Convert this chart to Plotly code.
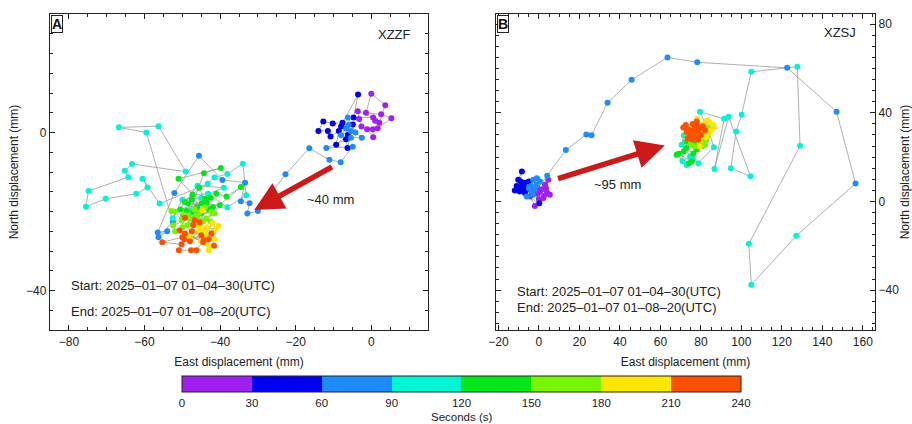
import plotly.graph_objects as go

# ---------------- data ----------------
# Panel A (XZZF): seconds since start, east (mm), north (mm)
tA = [0, 2, 4, 6, 8, 10, 12, 14, 16, 18, 20, 22, 24, 26, 28,
      30, 32, 34, 36, 38, 40, 42, 44, 46, 48, 50, 52, 54, 56, 58,
      60, 61, 62, 63, 64, 66, 67, 68, 69, 70, 71, 72, 73, 74, 75, 76, 77, 78, 79, 80, 82, 84, 85, 86, 87, 88,
      90, 91, 92, 93, 94, 95, 96, 97, 98, 99, 100, 101, 102, 103, 104, 105, 106, 107, 108, 109, 110, 111, 112, 113, 114, 116, 118,
      120, 121, 122, 123, 124, 125, 126, 127, 128, 129, 130, 131, 132, 133, 134, 135, 136, 137, 138, 140, 142, 144, 146, 148,
      150, 151, 152, 153, 154, 155, 156, 157, 158, 159, 160, 161, 162, 164, 166, 168, 170, 172, 174, 176, 178,
      180, 181, 182, 183, 184, 185, 186, 187, 188, 189, 190, 191, 193, 195, 197, 199, 201, 203, 205, 207, 209,
      210, 211, 212, 213, 214, 215, 216, 217, 218, 219, 220, 221, 222, 223, 224, 225, 226, 227, 228, 229, 230]
eA = [1.0, 2.1, 3.7, 0.0, -1.4, 2.6, 5.3, 1.7, 0.4, 0.5, -1.1, -2.6, -3.2, -3.6, 0.5,
      -4.7, -3.5, -7.6, -10.2, -12.7, -14.0, -11.5, -10.8, -8.6, -9.3, -6.2, -6.7, -6.3, -4.9, -8.0,
      -6.7, -5.4, -8.0, -6.0, -6.2, -4.2, -2.5, -5.4, -11.9, -4.9, -8.1, -11.1, -16.4, -22.7, -30.0, -32.8, -32.2, -34.5, -33.4, -39.4, -45.6, -52.1, -56.5, -54.0, -56.3, -52.5,
      -59.5, -66.8, -56.3, -49.1, -63.3, -65.2, -64.3, -74.8, -75.5, -70.3, -62.2, -59.2, -60.5, -56.0, -43.3, -41.5, -38.1, -34.0, -33.1, -38.1, -43.2, -39.0, -46.0, -52.5, -50.0, -45.0, -48.0,
      -44.3, -39.8, -51.0, -47.3, -41.0, -38.3, -34.5, -40.1, -44.9, -48.5, -41.9, -48.9, -44.0, -49.8, -47.1, -49.3, -45.5, -43.0, -47.5, -42.5, -46.0, -50.5, -45.0, -43.5,
      -52.9, -52.0, -50.2, -46.3, -45.4, -42.3, -48.0, -52.4, -51.9, -43.6, -41.4, -48.7, -46.8, -44.5, -49.5, -47.0, -44.0, -50.0, -46.0, -42.5, -48.5,
      -44.7, -44.9, -41.0, -40.5, -41.9, -44.5, -47.8, -45.4, -47.1, -43.2, -42.8, -43.0, -46.0, -44.0, -42.0, -45.0, -48.5, -43.5, -41.5, -45.5, -44.0,
      -50.7, -49.3, -47.1, -45.4, -46.7, -49.3, -44.3, -42.3, -41.6, -44.5, -46.3, -47.7, -50.9, -50.2, -55.3, -50.0, -48.0, -45.0, -43.0, -47.5, -49.5]
nA = [3.0, 2.5, 6.9, 9.8, 5.0, 4.6, 3.6, 1.1, 0.8, -1.2, 0.8, 1.5, 3.4, 5.4, 3.8,
      3.8, 9.6, 2.5, 2.3, 2.8, 0.4, 0.4, -1.0, 0.4, -3.1, -0.6, -1.7, -3.9, 2.0, 1.5,
      1.0, 0.4, -0.7, 1.9, 3.8, 0.0, -1.3, -1.3, -3.9, -3.6, -7.5, -6.9, -4.0, -10.6, -19.9, -20.5, -17.9, -17.4, -12.7, -12.0, -5.9, -15.3, -25.3, -25.0, -26.5, -22.6,
      0.0, 1.3, 1.6, -9.9, -8.0, -9.7, -11.3, -14.8, -18.8, -16.8, -15.5, -13.9, -11.7, -18.0, -13.0, -11.4, -10.5, -7.9, -15.9, -18.9, -15.5, -14.0, -13.5, -21.7, -17.0, -16.5, -20.0,
      -10.3, -9.0, -11.7, -15.7, -15.5, -16.2, -13.8, -18.4, -18.0, -18.0, -18.9, -19.9, -16.8, -21.0, -20.1, -17.6, -14.0, -19.5, -17.0, -16.5, -19.0, -19.5, -20.5, -17.8,
      -19.9, -20.0, -22.2, -21.0, -20.3, -20.1, -21.8, -23.5, -25.0, -21.8, -20.5, -23.5, -19.5, -22.5, -20.8, -23.0, -19.0, -24.0, -22.0, -22.5, -21.0,
      -19.7, -24.3, -24.3, -23.6, -25.1, -26.0, -27.0, -25.1, -25.1, -26.8, -28.9, -29.8, -23.5, -25.5, -23.0, -27.5, -26.0, -24.0, -27.0, -24.5, -28.0,
      -24.8, -21.6, -23.5, -22.8, -22.2, -25.6, -27.2, -25.6, -28.7, -27.7, -29.8, -29.8, -29.8, -28.3, -27.8, -26.5, -27.5, -26.0, -27.0, -25.0, -27.0]

# Panel B (XZSJ)
tB = [0, 2, 4, 6, 8, 10, 12, 14, 16, 18, 20, 22, 24, 26, 28,
      30, 32, 34, 36, 38, 40, 42, 44, 46, 48, 50, 52, 54, 56, 58,
      60, 61, 62, 63, 64, 65, 66, 67, 68, 69, 70, 71, 72, 73, 75, 77, 79, 81, 84, 86, 88,
      90, 92, 94, 96, 98, 100, 102, 104, 105, 106, 107, 108, 109, 110, 111, 112, 113, 114, 115, 116, 117, 118, 119,
      120, 122, 124, 126, 128, 130, 132, 134, 136, 138, 140, 142, 144, 146, 148,
      150, 152, 154, 156, 158, 160, 162, 164, 166, 168, 170, 172, 174, 176, 178,
      180, 182, 184, 186, 188, 190, 192, 194, 196, 198, 200, 202, 204, 206, 208,
      210, 211, 212, 213, 214, 215, 216, 217, 218, 219, 220, 221, 222, 223, 224, 225, 226, 227, 228, 229, 230]
eB = [0.5, 3.0, 4.6, 3.5, 5.4, 2.1, -2.0, -4.4, -0.5, 1.5, 4.0, -1.0, 2.5, 0.0, -3.0,
      -6.9, -8.6, -11.9, -10.2, -8.4, -9.0, -7.5, -11.0, -6.0, -9.5, 0.2, -5.0, -7.0, -10.5, -8.0,
      -2.8, -1.2, -3.6, -6.1, 0.5, -4.0, -2.0, -5.0, -1.0, -3.0, 4.1, 13.3, 23.4, 26.0, 33.9, 45.8, 63.5, 78.2, 122.6, 147.0, 156.4,
      127.1, 104.9, 103.7, 129.0, 127.6, 104.9, 100.1, 97.4, 94.8, 104.5, 93.7, 86.7, 91.5, 79.5, 84.0, 86.4, 78.7, 74.6, 70.9, 71.6, 70.5, 76.0, 73.0,
      68.0, 74.2, 76.2, 72.9, 69.0, 75.5, 78.0, 73.0, 80.5, 76.5, 71.5, 79.0, 74.5, 82.0, 77.5,
      82.8, 82.0, 77.0, 80.0, 79.0, 83.5, 75.0, 81.0, 78.5, 84.0, 76.5, 80.5, 73.0, 82.5, 78.0,
      86.1, 83.6, 78.2, 79.5, 84.5, 81.0, 77.0, 85.0, 80.0, 83.0, 79.5, 75.5, 82.5, 86.5, 78.0,
      71.3, 77.9, 76.2, 74.6, 78.7, 82.0, 77.0, 73.0, 80.0, 75.5, 78.5, 72.5, 76.0, 79.5, 74.0, 77.5, 81.0, 75.0, 78.0, 73.5, 76.5]
nB = [4.5, 7.5, 9.8, 6.0, 3.0, 1.5, -2.0, 2.3, 3.5, 5.5, 4.0, 6.5, 2.5, 1.0, 4.0,
      3.8, 6.8, 5.0, 9.8, 13.5, 9.0, 7.5, 7.0, 5.5, 4.5, -0.8, 9.0, 8.5, 6.0, 5.0,
      9.8, 7.5, 4.5, 2.3, 9.0, 7.0, 5.5, 6.0, 10.5, 3.0, 11.6, 23.2, 30.2, 29.9, 44.5, 54.9, 65.0, 62.8, 60.3, 40.5, 8.1,
      -15.5, -37.6, -19.1, 25.1, 60.8, 58.5, 39.1, 31.6, 15.0, 11.4, 38.2, 14.6, 37.3, 40.5, 31.2, 24.5, 17.2, 20.3, 18.1, 29.8, 25.6, 19.0, 16.5,
      21.1, 17.3, 21.5, 24.1, 21.5, 18.0, 23.5, 27.0, 25.0, 26.5, 22.5, 29.5, 28.0, 28.5, 24.0,
      27.8, 25.6, 24.8, 27.0, 31.0, 30.0, 26.0, 33.0, 28.5, 33.5, 30.0, 29.5, 30.5, 31.0, 33.0,
      34.6, 30.9, 37.2, 24.8, 35.5, 35.0, 32.5, 32.0, 31.5, 36.5, 27.5, 34.0, 29.0, 33.5, 35.5,
      33.4, 36.1, 30.9, 29.3, 27.8, 32.1, 33.1, 31.5, 30.0, 28.0, 31.5, 34.5, 35.0, 33.0, 32.5, 29.0, 34.0, 31.0, 34.5, 28.5, 32.0]

bin_edges = [0, 30, 60, 90, 120, 150, 180, 210, 240]
bin_colors = ["#a020f0", "#0000f0", "#1e8cff", "#00f5d2",
              "#00e619", "#78f500", "#ffe600", "#ff5000"]
start_label = "Start: 2025\u201301\u201307 01\u201304\u201330(UTC)"
end_label = "End: 2025\u201301\u201307 01\u201308\u201320(UTC)"

# ---------------- figure ----------------
FONT = "Liberation Sans, Arial, Helvetica, sans-serif"
INK = "#222"
cmin, cmax = bin_edges[0], bin_edges[-1]
cscale = []
for i, c in enumerate(bin_colors):
    cscale.append([(bin_edges[i] - cmin) / (cmax - cmin), c])
    cscale.append([(bin_edges[i + 1] - cmin) / (cmax - cmin), c])

fig = go.Figure()

def add_panel(x, y, t, xa, ya, show_cb):
    fig.add_trace(go.Scatter(x=x, y=y, mode="lines", xaxis=xa, yaxis=ya,
                             line=dict(color="#9a9a9a", width=0.8),
                             hoverinfo="skip", showlegend=False))
    marker = dict(size=6, color=t, colorscale=cscale, cmin=cmin, cmax=cmax,
                  line=dict(width=0))
    if show_cb:
        marker["showscale"] = True
        marker["colorbar"] = dict(
            orientation="h", x=0.4988, xanchor="center", y=-0.146, yanchor="top",
            len=0.6776, lenmode="fraction", thickness=16, xpad=0, ypad=0,
            outlinewidth=1, outlinecolor=INK,
            tickvals=bin_edges, ticks="", tickfont=dict(size=11.5, color=INK))
    else:
        marker["showscale"] = False
    fig.add_trace(go.Scatter(x=x, y=y, mode="markers", xaxis=xa, yaxis=ya,
                             marker=marker, text=t, showlegend=False,
                             hovertemplate="E %{x} mm<br>N %{y} mm<br>%{text} s<extra></extra>"))

add_panel(eA, nA, tA, "x", "y", True)
add_panel(eB, nB, tB, "x2", "y2", False)

axis_common = dict(showline=True, linecolor=INK, linewidth=1.3, mirror="allticks",
                   ticks="inside", ticklen=5, tickcolor=INK, showgrid=False,
                   zeroline=False, tickfont=dict(size=12, color=INK),
                   minor=dict(ticks="inside", ticklen=3, dtick=5, tickcolor=INK, showgrid=False))

fig.update_layout(
    width=912, height=424,
    margin=dict(l=50, r=37, t=14, b=94, autoexpand=False),
    paper_bgcolor="white", plot_bgcolor="white",
    font=dict(family=FONT, size=12, color=INK),
    xaxis=dict(domain=[0, 0.4582], range=[-85, 15], tick0=0, dtick=20, anchor="y",
               title=dict(text="East displacement (mm)", font=dict(size=12), standoff=10),
               **axis_common),
    yaxis=dict(domain=[0, 1], range=[-50, 30], tick0=0, dtick=40, anchor="x",
               title=dict(text="North displacement (mm)", font=dict(size=12), standoff=4),
               **axis_common),
    xaxis2=dict(domain=[0.5406, 1], range=[-21.2, 166], tick0=0, dtick=20, anchor="y2",
                title=dict(text="East displacement (mm)", font=dict(size=12), standoff=10),
                **axis_common),
    yaxis2=dict(domain=[0, 1], range=[-58, 84.6], tick0=0, dtick=40, anchor="x2", side="right",
                title=dict(text="North displacement (mm)", font=dict(size=12), standoff=14),
                **axis_common),
)

ann = []
for xr, yr, letter, code, cx, cy, sy, ey in [
        ("x", "y", "A", "XZZF", 0.960, 0.934, 0.142, 0.060),
        ("x2", "y2", "B", "XZSJ", 0.955, 0.943, 0.123, 0.070)]:
    ann.append(dict(text="<b>%s</b>" % letter, xref=xr + " domain", yref=yr + " domain",
                    x=0.002, y=0.998, xanchor="left", yanchor="top", showarrow=False,
                    font=dict(size=14, color="#111"), bordercolor=INK, borderwidth=1,
                    borderpad=0, bgcolor="white"))
    ann.append(dict(text=code, xref=xr + " domain", yref=yr + " domain", x=cx, y=cy,
                    xanchor="right", yanchor="middle", showarrow=False, font=dict(size=13)))
    ann.append(dict(text=start_label, xref=xr + " domain", yref=yr + " domain", x=0.05, y=sy,
                    xanchor="left", yanchor="middle", showarrow=False, font=dict(size=13)))
    ann.append(dict(text=end_label, xref=xr + " domain", yref=yr + " domain", x=0.05, y=ey,
                    xanchor="left", yanchor="middle", showarrow=False, font=dict(size=13)))

# colorbar title
ann.append(dict(text="Seconds (s)", xref="paper", yref="paper", x=0.4988, y=-0.274,
                xanchor="center", yanchor="middle", showarrow=False, font=dict(size=11.5)))

# displacement arrows
ann.append(dict(x=-31, y=-19.6, ax=-10, ay=-8.5, xref="x", yref="y", axref="x", ayref="y",
                text="", showarrow=True, arrowhead=2, arrowsize=1.05, arrowwidth=5.5,
                arrowcolor="#cc1a1a", standoff=0, startstandoff=0))
ann.append(dict(x=-10.7, y=-16.9, xref="x", yref="y", text="~40 mm", showarrow=False,
                font=dict(size=13)))
ann.append(dict(x=62.2, y=25.3, ax=8.7, ay=10.1, xref="x2", yref="y2", axref="x2", ayref="y2",
                text="", showarrow=True, arrowhead=2, arrowsize=1.05, arrowwidth=5.5,
                arrowcolor="#cc1a1a", standoff=0, startstandoff=0))
ann.append(dict(x=39, y=7.5, xref="x2", yref="y2", text="~95 mm", showarrow=False,
                font=dict(size=13)))
fig.update_layout(annotations=ann)

# remove the page's default body margin so the figure sits at the window origin
fig.write_html("out.html", config={"displayModeBar": False},
               post_script="document.body.style.margin='0';")
